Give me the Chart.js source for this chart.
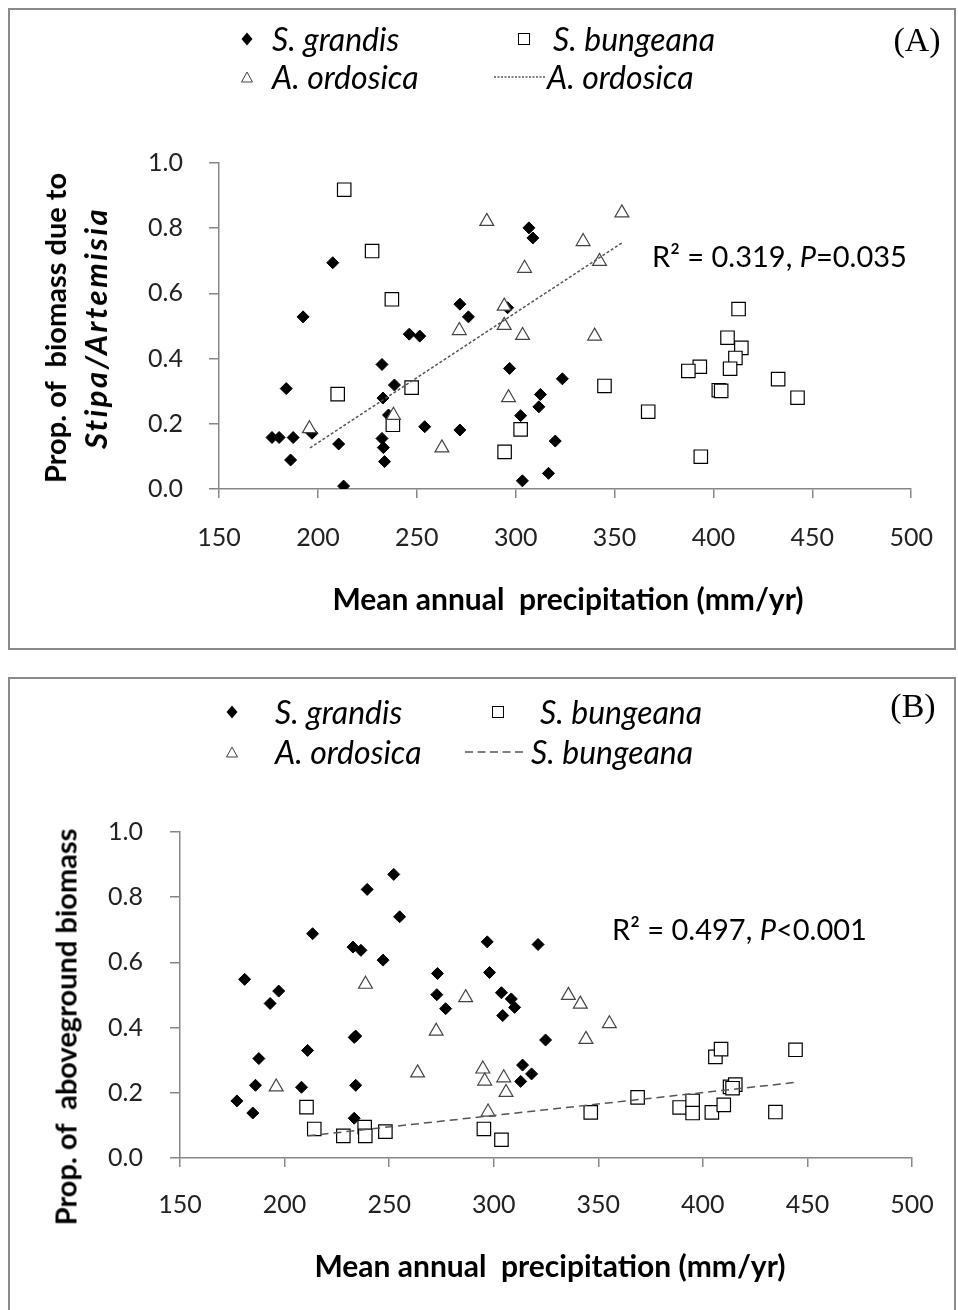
<!DOCTYPE html>
<html lang="en">
<head>
<meta charset="UTF-8">
<title>Biomass proportion vs mean annual precipitation</title>
<script src="https://cdn.jsdelivr.net/npm/chart.js"></script>
<style>
  body { margin: 0; background: #fff; font-family: Lato, "Open Sans", sans-serif; }
  #page { position: relative; width: 958px; height: 1310px; overflow: hidden; }
  .box { position: absolute; border: 2px solid #8a8a8a; box-sizing: border-box; }
  canvas { position: absolute; left: 0; }
  .t { position: absolute; white-space: nowrap; color: #000; line-height: 1; }
  .leg { font-style: italic; font-size: 32px; transform: translateY(-50%); }
  .mark { position: absolute; transform: translate(-50%, -50%); }
  .xt { font-weight: bold; font-size: 30px; transform: translate(-50%, -50%); }
  .yt { font-weight: bold; font-size: 29px; line-height: 41px; text-align: center;
        transform: translate(-50%, -50%) rotate(-90deg); }
  .yt i { font-size: 31px; letter-spacing: 2.5px; }
  .r2 { font-size: 29px; transform: translateY(-50%); }
  .tag { font-family: "Liberation Serif", serif; font-size: 34px; transform: translate(-50%, -50%); }
</style>
</head>
<body>
<div id="page">
  <div class="box" style="left:8px; top:8px; width:948px; height:642px;"></div>
  <div class="box" style="left:8px; top:677px; width:948px; height:700px;"></div>

  <canvas id="chartA" width="958" height="650" style="top:0;"></canvas>
  <canvas id="chartB" width="958" height="650" style="top:660px;"></canvas>

  <!-- legenda A -->
  <svg class="mark" style="left:247px; top:39px;" width="13" height="15"><polygon points="6.5,1 12,7.5 6.5,14 1,7.5" fill="#000"/></svg>
  <div class="t leg" style="left:272px; top:39px;">S. grandis</div>
  <svg class="mark" style="left:524px; top:39px;" width="13" height="13"><rect x="1" y="1" width="11" height="11" fill="#fff" stroke="#000" stroke-width="1"/></svg>
  <div class="t leg" style="left:553px; top:39px;">S. bungeana</div>
  <svg class="mark" style="left:247px; top:77px;" width="13" height="12"><polygon points="6.5,1 12,11 1,11" fill="#fff" stroke="#444" stroke-width="1"/></svg>
  <div class="t leg" style="left:272px; top:77px;">A. ordosica</div>
  <svg style="position:absolute; left:494px; top:75px;" width="52" height="4"><line x1="0" y1="2" x2="52" y2="2" stroke="#555" stroke-width="1.5" stroke-dasharray="2,1.5"/></svg>
  <div class="t leg" style="left:547px; top:77px;">A. ordosica</div>
  <div class="t tag" style="left:917px; top:40px;">(A)</div>

  <div class="t yt" style="left:75px; top:328px;">Prop. of&nbsp; biomass due to<br><i>Stipa/Artemisia</i></div>
  <div class="t xt" style="left:568px; top:598px;">Mean annual&nbsp; precipitation (mm/yr)</div>
  <div class="t r2" style="left:652px; top:255px;">R² = 0.319, <i>P</i>=0.035</div>

  <!-- legenda B -->
  <svg class="mark" style="left:232px; top:712px;" width="13" height="15"><polygon points="6.5,1 12,7.5 6.5,14 1,7.5" fill="#000"/></svg>
  <div class="t leg" style="left:275px; top:712px;">S. grandis</div>
  <svg class="mark" style="left:498px; top:712px;" width="13" height="13"><rect x="1" y="1" width="11" height="11" fill="#fff" stroke="#000" stroke-width="1"/></svg>
  <div class="t leg" style="left:540px; top:712px;">S. bungeana</div>
  <svg class="mark" style="left:232px; top:752px;" width="13" height="12"><polygon points="6.5,1 12,11 1,11" fill="#fff" stroke="#444" stroke-width="1"/></svg>
  <div class="t leg" style="left:275px; top:752px;">A. ordosica</div>
  <svg style="position:absolute; left:465px; top:750px;" width="62" height="4"><line x1="0" y1="2" x2="62" y2="2" stroke="#555" stroke-width="1.5" stroke-dasharray="8,4.5"/></svg>
  <div class="t leg" style="left:531px; top:752px;">S. bungeana</div>
  <div class="t tag" style="left:913px; top:706px;">(B)</div>

  <div class="t yt" style="left:65px; top:1027px;">Prop. of&nbsp; aboveground biomass</div>
  <div class="t xt" style="left:550px; top:1265px;">Mean annual&nbsp; precipitation (mm/yr)</div>
  <div class="t r2" style="left:612px; top:928px;">R² = 0.497, <i>P</i>&lt;0.001</div>
</div>

<script>
  // eixo x: precipitação (mm/ano)
  const xMin = 150, xMax = 500, xStep = 50;
  const yMin = 0, yMax = 1, yStep = 0.2;

  // (A) proporção da biomassa devida a Stipa/Artemisia
  const grandisA = [[207.5,0.694],[192.5,0.528],[271.8,0.567],[276.1,0.528],[246.2,0.475],[251.5,0.469],
    [232.4,0.382],[238.7,0.319],[184.0,0.308],[232.9,0.279],[235.7,0.227],[254.0,0.191],[271.8,0.181],
    [197.0,0.171],[176.8,0.158],[180.4,0.158],[187.5,0.158],[232.4,0.155],[210.5,0.138],[233.1,0.127],
    [186.2,0.089],[233.7,0.084],[213.0,0.009],[306.7,0.801],[308.7,0.770],[295.9,0.556],[296.9,0.370],
    [323.6,0.338],[312.5,0.290],[311.7,0.252],[302.5,0.225],[320.0,0.147],[316.6,0.048],[303.4,0.025]];
  const bungeanaA = [[213.3,0.918],[227.4,0.730],[237.4,0.582],[247.4,0.311],[210.0,0.291],[237.9,0.197],
    [302.5,0.183],[294.4,0.114],[344.9,0.316],[367.0,0.237],[393.6,0.099],[412.7,0.552],[407.1,0.464],
    [414.1,0.433],[411.1,0.402],[393.1,0.375],[387.3,0.362],[408.4,0.369],[402.7,0.303],[403.9,0.301],
    [432.7,0.337],[442.5,0.280]];
  const ordosicaA = [[195.7,0.185],[238.2,0.226],[262.7,0.126],[271.5,0.486],[285.4,0.821],[353.7,0.847],
    [334.1,0.759],[342.4,0.698],[304.5,0.677],[294.2,0.561],[294.2,0.502],[303.5,0.471],[339.9,0.469],
    [296.4,0.280]];
  const trendA = [[196,0.126],[354,0.756]];

  // (B) proporção da biomassa aérea
  const grandisB = [[252.2,0.870],[239.5,0.824],[255.0,0.740],[213.4,0.688],[232.7,0.647],[236.5,0.637],
    [247.1,0.607],[180.9,0.548],[197.2,0.512],[193.1,0.474],[273.1,0.566],[272.8,0.501],[277.0,0.458],
    [234.0,0.374],[233.3,0.370],[211.0,0.330],[187.7,0.305],[186.1,0.223],[208.1,0.217],[234.0,0.223],
    [177.2,0.175],[184.8,0.138],[233.3,0.122],[296.9,0.663],[321.2,0.655],[298.0,0.569],[303.7,0.507],
    [308.4,0.488],[310.0,0.462],[304.3,0.437],[324.8,0.362],[313.8,0.285],[318.1,0.258],[312.9,0.235]];
  const bungeanaB = [[210.5,0.156],[214.2,0.089],[228.1,0.068],[238.3,0.095],[238.6,0.068],[248.2,0.081],
    [295.3,0.089],[303.7,0.056],[346.4,0.140],[368.8,0.186],[388.9,0.155],[395.1,0.175],[395.1,0.138],
    [404.3,0.140],[410.0,0.163],[406.0,0.310],[408.7,0.334],[413.0,0.218],[415.5,0.225],[414.2,0.214],
    [434.7,0.141],[444.3,0.332]];
  const ordosicaB = [[238.7,0.533],[272.5,0.389],[263.6,0.261],[196.0,0.218],[286.6,0.492],[335.7,0.499],
    [341.4,0.472],[355.3,0.412],[344.1,0.364],[294.8,0.273],[295.7,0.236],[304.8,0.246],[305.9,0.201],
    [297.3,0.141]];
  const trendB = [[211,0.068],[444.5,0.232]];

  const pts = arr => arr.map(p => ({ x: p[0], y: p[1] }));
  const axisGray = "#878787";

  function series(grandis, bungeana, ordosica, trend, dash) {
    return [
      { data: pts(trend), type: "line", showLine: true, pointRadius: 0, borderColor: "#555",
        borderWidth: 1.5, borderDash: dash, order: 0 },
      { data: pts(ordosica), pointStyle: "triangle", pointRadius: 8, backgroundColor: "#fff",
        borderColor: "#444", borderWidth: 1.2, order: 1 },
      { data: pts(bungeana), pointStyle: "rect", pointRadius: 9.5, backgroundColor: "#fff",
        borderColor: "#000", borderWidth: 1.2, order: 2 },
      { data: pts(grandis), pointStyle: "rectRot", pointRadius: 6, backgroundColor: "#000",
        borderColor: "#000", borderWidth: 1, order: 3 }
    ];
  }

  // g: posição da área do gráfico dentro do canvas
  function makeChart(id, datasets, g) {
    const tickFont = { family: "Lato, 'Open Sans', sans-serif", size: 25 };
    return new Chart(document.getElementById(id), {
      type: "scatter",
      data: { datasets },
      options: {
        responsive: false,
        animation: false,
        layout: { padding: { left: 0, top: g.top, right: 958 - g.right, bottom: 0 } },
        plugins: { legend: { display: false }, tooltip: { enabled: false } },
        scales: {
          x: {
            min: xMin, max: xMax,
            ticks: { stepSize: xStep, font: tickFont, color: "#222", padding: g.xPad, maxRotation: 0 },
            grid: { drawOnChartArea: false, tickLength: 9, color: axisGray, lineWidth: 1.5 },
            border: { color: axisGray, width: 1.5 },
            afterFit: s => { s.height = 650 - g.bottom; }
          },
          y: {
            min: yMin, max: yMax,
            ticks: { stepSize: yStep, font: tickFont, color: "#222", padding: g.yPad,
                     callback: v => v.toFixed(1) },
            grid: { drawOnChartArea: false, tickLength: 10, color: axisGray, lineWidth: 1.5 },
            border: { color: axisGray, width: 1.5 },
            afterFit: s => { s.width = g.left; }
          }
        }
      }
    });
  }

  makeChart("chartA", series(grandisA, bungeanaA, ordosicaA, trendA, [3, 2]),
    { left: 219, right: 917, top: 163, bottom: 489, xPad: 25, yPad: 26 });
  makeChart("chartB", series(grandisB, bungeanaB, ordosicaB, trendB, [8, 5]),
    { left: 180, right: 912, top: 172, bottom: 498, xPad: 23, yPad: 27 });
</script>
</body>
</html>
